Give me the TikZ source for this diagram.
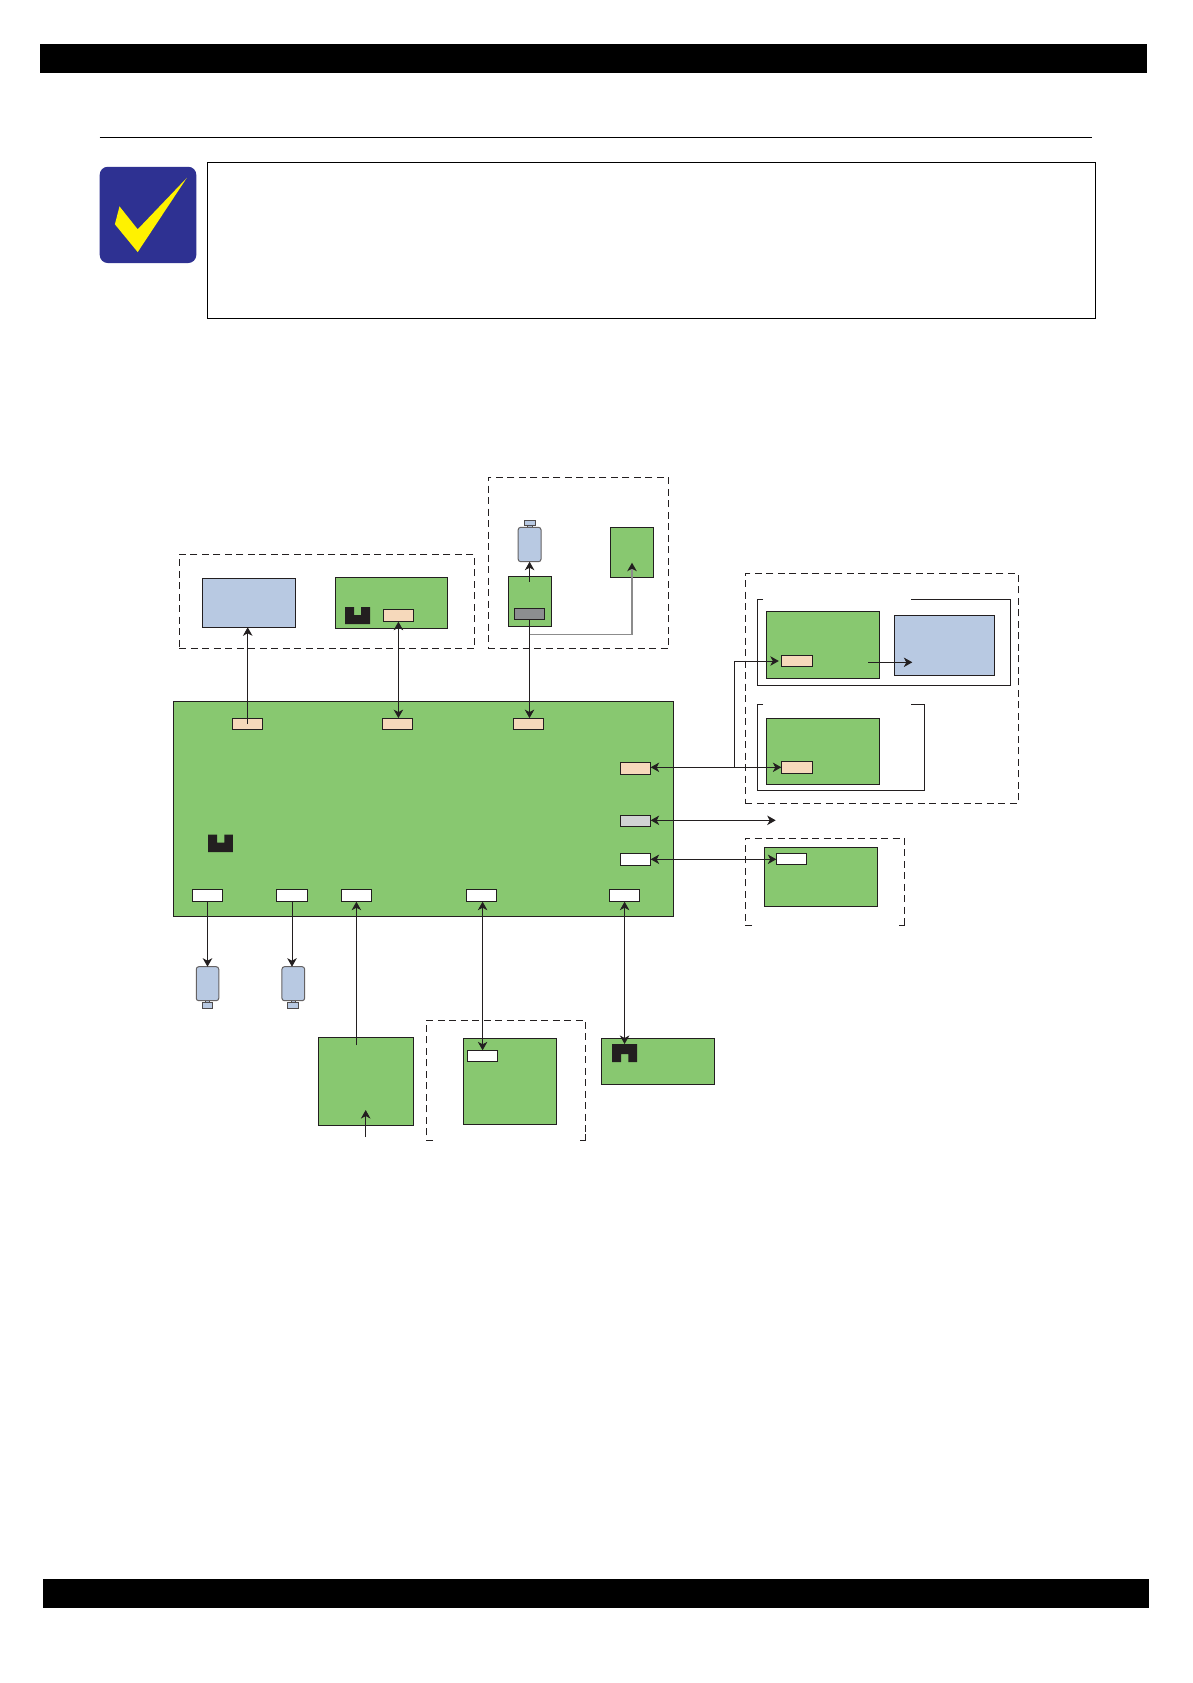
\documentclass[tikz,border=0pt]{standalone}
\usepackage{xcolor}
\usepackage{tikz}
\usetikzlibrary{arrows.meta, positioning, calc}
\definecolor{pcbgreen}{HTML}{88C870}
\definecolor{unitblue}{HTML}{B8C9E2}
\definecolor{conntan}{HTML}{F6D9BB}
\definecolor{conngray}{HTML}{8C8E90}
\definecolor{connlight}{HTML}{D1D3D4}
\definecolor{inkblack}{HTML}{231F20}
\definecolor{iconblue}{HTML}{2E3192}
\definecolor{iconyellow}{HTML}{FFF200}
\begin{document}
\begin{tikzpicture}[
  x=1pt, y=-1pt,
  wh/.style 2 args={minimum width=#1pt, minimum height=#2pt},
  flowbox/.style={rectangle, draw=inkblack, fill=#1, line width=1pt, inner sep=0pt, outer sep=0pt},
  conn/.style={flowbox=#1, line width=0.9pt, wh={30.4}{11.8}},
  dashbox/.style={rectangle, draw=inkblack, line width=0.9pt, inner sep=0pt, outer sep=0pt, dash pattern=on 7pt off 4.5pt},
  framepath/.style={draw=inkblack, line width=0.9pt},
  motorbody/.style={rectangle, rounded corners=2.5pt, draw=inkblack!70, fill=unitblue, line width=1pt, inner sep=0pt, outer sep=0pt},
  motorcap/.style={rectangle, draw=inkblack!80, fill=unitblue, line width=0.7pt, inner sep=0pt, outer sep=0pt},
  bar/.style={rectangle, fill=black, inner sep=0pt, outer sep=0pt},
  arrow/.style={-{Stealth[length=8.5pt, width=9.5pt, inset=2.5pt]}, draw=inkblack, line width=0.9pt},
  duplex/.style={{Stealth[length=8.5pt, width=9.5pt, inset=2.5pt]}-{Stealth[length=8.5pt, width=9.5pt, inset=2.5pt]}, draw=inkblack, line width=0.9pt},
  slot/.style={fill=inkblack}
]
  \path[use as bounding box, fill=white] (0,0) rectangle (1193,1683);

  % Page furniture
  \node[bar, wh={1106.5}{29}] (topbar) at (593.6,58.5) {};
  \node[bar, wh={1105.6}{28.5}] (footbar) at (596.2,1593.7) {};
  \draw[black, line width=1pt] (99.5,137.5) -- (1092,137.5);

  % Check mark and note
  \node[rectangle, rounded corners=8pt, fill=iconblue, wh={96.6}{96.2}, inner sep=0pt] (icon) at (148,214.9) {};
  \fill[iconyellow] (186.8,177.9) -- (137.7,229.3) -- (119.5,206.4) -- (114.9,224.3) -- (137.7,252.1) -- cycle;
  \node[rectangle, draw=black, line width=1pt, wh={888}{155.7}, inner sep=0pt, outer sep=0pt] (note) at (651,240.3) {};

  % Dashed groups
  \node[dashbox, wh={295.3}{94.4}] (panelgroup) at (327,601.5) {};
  \node[dashbox, wh={180.4}{171.4}] (scangroup) at (578.4,563) {};
  \node[dashbox, wh={273}{229.6}] (rightgroup) at (881.8,688.5) {};

  % Main board
  \node[flowbox=pcbgreen, wh={499.8}{215}] (main) at (423.1,808.5) {};
  \node[conn=conntan] (mainA) at (247.7,724) {};
  \node[conn=conntan] (mainB) at (397.5,724) {};
  \node[conn=conntan] (mainC) at (528.4,724) {};
  \node[conn=conntan, wh={30.4}{12.4}] (mainR) at (635.5,768.5) {};
  \node[conn=connlight] (mainL) at (635.5,821) {};
  \node[conn=white] (mainW) at (635.5,859.3) {};
  \node[conn=white, wh={30}{12.4}] (bottomA) at (207.5,895.5) {};
  \node[conn=white, wh={31}{12.4}] (bottomB) at (292,895.5) {};
  \node[conn=white, wh={30.3}{12.4}] (bottomC) at (356.5,895.5) {};
  \node[conn=white, wh={30.4}{12.4}] (bottomD) at (481.5,895.5) {};
  \node[conn=white, wh={30.3}{12.4}] (bottomE) at (624.6,895.5) {};
  \fill[slot] (208,834.7) -- (217,834.7) -- (217,842.7) -- (224.4,842.7) -- (224.4,834.7) -- (232.9,834.7) -- (232.9,852) -- (208,852) -- cycle;

  % Panel group
  \node[flowbox=unitblue, wh={93.2}{49}] (lcd) at (249.1,602.8) {};
  \node[flowbox=pcbgreen, wh={112.1}{51}] (panel) at (391.5,602.8) {};
  \node[conn=conntan, wh={30.4}{12.4}] (panelconn) at (398.4,615.5) {};
  \fill[slot] (345,607) -- (354,607) -- (354,615) -- (361,615) -- (361,607) -- (370,607) -- (370,624) -- (345,624) -- cycle;

  % Scanner group
  \node[flowbox=pcbgreen, wh={43.6}{50}] (scanboard) at (530,601.3) {};
  \node[conn=conngray] (scanconn) at (529.5,614) {};
  \node[flowbox=pcbgreen, wh={43.2}{50.4}] (sensor) at (632,552.5) {};
  \node[motorcap, wh={5}{2}] (scanneck) at (530,526.5) {};
  \node[motorcap, wh={11.4}{5.4}] (scancap) at (530,523) {};
  \node[motorbody, wh={22.8}{34.4}] (scanmotor) at (529.6,544.5) {};

  % Right group
  \node[flowbox=pcbgreen, wh={113.4}{67}] (upperboard) at (823,644.8) {};
  \node[flowbox=unitblue, wh={100.4}{60.4}] (upperunit) at (944.5,645.5) {};
  \node[conn=conntan] (upperconn) at (797,661) {};
  \node[flowbox=pcbgreen, wh={113.4}{66}] (lowerboard) at (823,751.3) {};
  \node[conn=conntan, wh={31.4}{12}] (lowerconn) at (797,767.3) {};
  \draw[framepath] (763,599.3) -- (757.3,599.3) -- (757.3,685.7) -- (1010.7,685.7) -- (1010.7,599.3) -- (911,599.3);
  \draw[framepath] (763,704.3) -- (757.3,704.3) -- (757.3,790.3) -- (924.7,790.3) -- (924.7,704.3) -- (911,704.3);

  % Side board
  \draw[framepath, dash pattern=on 7pt off 4.5pt] (752,925.7) -- (745.3,925.7) -- (745.3,838.3) -- (904.7,838.3) -- (904.7,920);
  \draw[framepath] (904.7,920) -- (904.7,925.7) -- (899.3,925.7);
  \node[flowbox=pcbgreen, wh={113.4}{59.4}] (sideboard) at (821,877) {};
  \node[conn=white, wh={30.4}{11.4}] (sideconn) at (791.5,859) {};

  % Motors below the board
  \node[motorcap, wh={4}{2}] (neckA) at (207.5,1001.5) {};
  \node[motorcap, wh={10}{6.4}] (capA) at (207.5,1005.5) {};
  \node[motorbody, wh={22.5}{34}] (motorA) at (207.5,983.7) {};
  \node[motorcap, wh={4}{2}] (neckB) at (293,1001.5) {};
  \node[motorcap, wh={11.4}{6.4}] (capB) at (293,1005.5) {};
  \node[motorbody, wh={22.7}{34}] (motorB) at (293.3,983.7) {};

  % Boards at the bottom
  \node[flowbox=pcbgreen, wh={95.5}{88.4}] (power) at (366,1081.5) {};
  \draw[framepath, dash pattern=on 7pt off 4.5pt] (433,1140.3) -- (426.4,1140.3) -- (426.4,1020.3) -- (585.8,1020.3) -- (585.8,1134);
  \draw[framepath] (585.8,1134) -- (585.8,1140.3) -- (579.5,1140.3);
  \node[flowbox=pcbgreen, wh={93.2}{86.4}] (hostboard) at (510,1081.5) {};
  \node[conn=white, wh={30.4}{11.4}] (hostconn) at (482.6,1056) {};
  \node[flowbox=pcbgreen, wh={113.2}{46}] (frontboard) at (658,1061.3) {};
  \fill[slot] (612,1044) -- (637.2,1044) -- (637.2,1062) -- (628.4,1062) -- (628.4,1054) -- (621,1054) -- (621,1062) -- (612,1062) -- cycle;

  % Free ends
  \coordinate (scanup) at (529.6,581.7);
  \coordinate (split) at (734.3,767.3);
  \coordinate (upperfrom) at (868.3,662.3);
  \coordinate (upperto) at (912.3,662.3);
  \coordinate (lanend) at (775.7,820.3);
  \coordinate (powerin) at (365.7,1137);
  \coordinate (powertip) at (365.7,1110);
  \coordinate (powerout) at (356.4,1045.3);
  \coordinate (sensortip) at (632,562.7);
  \coordinate (sensorturn) at (529.6,634.3);
  \coordinate (frontslot) at (624.6,1044);

  % Arrows
  \draw[arrow] (mainA.center) -- (mainA.center |- lcd.south);
  \draw[duplex] (panelconn.south) -- (panelconn.south |- mainB.north);
  \draw[arrow] (scanconn.south) -- (scanconn.south |- mainC.north);
  \draw[arrow] (scanup) -- (scanmotor.south);
  \draw[-{Stealth[length=8.5pt, width=9.5pt, inset=2.5pt, inkblack]}, draw=black!45, line width=1.2pt] (sensorturn) -| (sensortip);
  \draw[duplex] (mainR.east |- lowerconn.west) -- (lowerconn.west);
  \draw[arrow] (split) |- ([xshift=-3pt]upperconn.west);
  \draw[arrow] (upperfrom) -- (upperto);
  \draw[duplex] (mainL.east |- lanend) -- (lanend);
  \draw[duplex] (mainW.east) -- (mainW.east -| sideconn.west);
  \draw[arrow] (bottomA.south) -- (motorA.north);
  \draw[arrow] (bottomB.south) -- (bottomB.south |- motorB.north);
  \draw[arrow] (powerout) -- (powerout |- bottomC.south);
  \draw[arrow] (powerin) -- (powertip);
  \draw[duplex] (hostconn.north |- bottomD.south) -- (hostconn.north);
  \draw[duplex] (bottomE.south) -- (frontslot);
\end{tikzpicture}
\end{document}
